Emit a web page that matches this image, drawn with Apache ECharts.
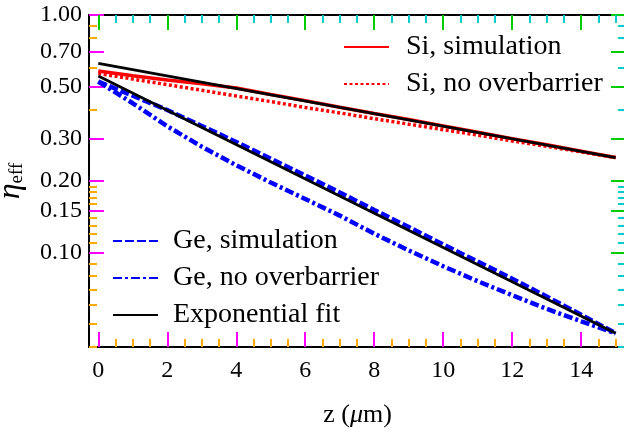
<!DOCTYPE html>
<html><head><meta charset="utf-8">
<script src="https://cdn.jsdelivr.net/npm/echarts@6/dist/echarts.min.js"></script>
<style>html,body{margin:0;padding:0;background:#fff}#c{width:624px;height:435px}</style>
</head><body><div id="c"></div>
<script>
var zs = [0,1,2,3,4,5,6,7,8,9,10,11,12,13,14,15];
var siSim = [0.581,0.555,0.533,0.513,0.493,0.463,0.436,0.409,0.385,0.363,0.341,0.321,0.301,0.284,0.267,0.251];
var siNoOver = [0.568,0.537,0.509,0.482,0.456,0.432,0.408,0.387,0.366,0.347,0.329,0.312,0.295,0.280,0.265,0.251];
var geSim = [0.524,0.457,0.398,0.341,0.292,0.248,0.211,0.179,0.151,0.128,0.108,0.0916,0.0776,0.0652,0.0547,0.0457];
var geNoOver = [0.524,0.425,0.340,0.279,0.233,0.197,0.168,0.143,0.120,0.102,0.0875,0.0757,0.0661,0.0579,0.0513,0.0457];
var fitZ = [0,15];
var siFit = [0.625,0.251];
var geFit = [0.553,0.0457];
var xMajor = [0,2,4,6,8,10,12,14];
var xMinor = [0.5,1,1.5,2.5,3,3.5,4.5,5,5.5,6.5,7,7.5,8.5,9,9.5,10.5,11,11.5,12.5,13,13.5,14.5,15];
var yMajor = [0.10,0.15,0.20,0.30,0.50,0.70,1.00];
var yMinor = [0.04,0.05,0.06,0.07,0.08,0.09,0.11,0.12,0.13,0.14,0.16,0.17,0.18,0.19,0.4,0.6,0.8,0.9];

function pairs(x, y){ return x.map(function(v,i){return [v,y[i]];}); }
var FONT = 'Liberation Serif';
var chart = echarts.init(document.getElementById('c'), null, {renderer:'canvas'});
var xMin = -0.27, xMax = 15.30, yMin = 0.04, yMax = 1.0;
var G = {left:89, top:15, right:-2, bottom:88, containLabel:false, outerBoundsMode:'none'};
function tick(len, vals, col){ return {show:true, inside:true, length:len, customValues:vals, lineStyle:{width:2,color:col}}; }
function hiddenLabel(vals){ return {show:true, customValues:vals, color:'rgba(0,0,0,0)', fontSize:8, hideOverlap:false}; }
function xa(extra){
  return Object.assign({type:'value', min:xMin, max:xMax, splitLine:{show:false},
    axisLine:{show:true, lineStyle:{color:'#000', width:2}}}, extra);
}
function ya(extra){
  return Object.assign({type:'log', logBase:10, min:yMin, max:yMax, splitLine:{show:false},
    axisLine:{show:true, onZero:false, lineStyle:{color:'#000', width:2}}}, extra);
}
var option = {
  animation:false,
  backgroundColor:'#fff',
  grid:[Object.assign({}, G), Object.assign({}, G)],
  xAxis:[
    xa({gridIndex:0, position:'bottom', axisTick:tick(15, xMajor, '#f0f'),
      axisLabel:{show:true, customValues:xMajor, margin:12, color:'#000', fontFamily:FONT, fontSize:24, formatter:function(v){return String(v);}},
      name:'{n|z (}{i|μ}{n|m)}', nameLocation:'middle', nameGap:55,
      nameTextStyle:{rich:{n:{fontFamily:FONT,fontSize:26,color:'#000'}, i:{fontFamily:FONT,fontSize:26,fontStyle:'italic',color:'#000'}}}}),
    xa({gridIndex:0, position:'top', axisTick:tick(15, xMajor, '#0c0'), axisLabel:hiddenLabel(xMajor)}),
    xa({gridIndex:1, position:'bottom', axisTick:tick(8, xMinor, '#fa0'), axisLabel:hiddenLabel(xMinor)}),
    xa({gridIndex:1, position:'top', axisTick:tick(8, xMinor, '#0cc'), axisLabel:hiddenLabel(xMinor)})
  ],
  yAxis:[
    ya({gridIndex:0, position:'left', axisTick:tick(15, yMajor, '#f0f'),
      axisLabel:{show:true, customValues:yMajor, margin:7, color:'#000', fontFamily:FONT, fontSize:24, formatter:function(v){return v.toFixed(2);}},
      name:'{e|η}{s|eff}', nameLocation:'middle', nameGap:62, nameRotate:90,
      nameTextStyle:{rich:{e:{fontFamily:FONT,fontSize:32,fontStyle:'italic',color:'#000'}, s:{fontFamily:FONT,fontSize:19,color:'#000',padding:[14,0,0,0]}}}}),
    ya({gridIndex:0, position:'right', axisTick:tick(15, yMajor, '#0c0'), axisLabel:hiddenLabel(yMajor)}),
    ya({gridIndex:1, position:'left', axisTick:tick(8, yMinor, '#fa0'), axisLabel:hiddenLabel(yMinor)}),
    ya({gridIndex:1, position:'right', axisTick:tick(8, yMinor, '#0cc'), axisLabel:hiddenLabel(yMinor)})
  ],
  legend:[
    {data:['Si, simulation','Si, no overbarrier'], orient:'vertical', left:338, top:28, itemWidth:45, itemHeight:14, itemGap:9,
     itemStyle:{opacity:0},
     textStyle:{fontFamily:FONT, fontSize:28, color:'#000', padding:[0,0,0,12]}},
    {data:['Ge, simulation','Ge, no overbarrier','Exponential fit'], orient:'vertical', left:107, top:222, itemWidth:45, itemHeight:14, itemGap:9,
     itemStyle:{opacity:0},
     textStyle:{fontFamily:FONT, fontSize:28, color:'#000', padding:[0,0,0,10]}}
  ],
  series:[
    {name:'Si, simulation', type:'line', xAxisIndex:0, yAxisIndex:0, data:pairs(zs,siSim), symbol:'none', lineStyle:{color:'#ff0000', width:3.5}, itemStyle:{color:'#ff0000'}},
    {name:'Si, no overbarrier', type:'line', xAxisIndex:0, yAxisIndex:0, data:pairs(zs,siNoOver), symbol:'none', lineStyle:{color:'#ff0000', width:3.5, type:[3,2.5]}, itemStyle:{color:'#ff0000'}},
    {name:'Ge, simulation', type:'line', xAxisIndex:0, yAxisIndex:0, data:pairs(zs,geSim), symbol:'none', lineStyle:{color:'#0000ff', width:4.5, type:[9,3]}, itemStyle:{color:'#0000ff'}},
    {name:'Ge, no overbarrier', type:'line', xAxisIndex:0, yAxisIndex:0, data:pairs(zs,geNoOver), symbol:'none', lineStyle:{color:'#0000ff', width:4.5, type:[9,3,3,3]}, itemStyle:{color:'#0000ff'}},
    {name:'Exponential fit', type:'line', xAxisIndex:0, yAxisIndex:0, data:pairs(fitZ,siFit), symbol:'none', lineStyle:{color:'#000', width:2.8}, itemStyle:{color:'#000'}},
    {name:'Exponential fit', type:'line', xAxisIndex:0, yAxisIndex:0, data:pairs(fitZ,geFit), symbol:'none', lineStyle:{color:'#000', width:2.8}, itemStyle:{color:'#000'}}
  ]
};
chart.setOption(option);
</script></body></html>
